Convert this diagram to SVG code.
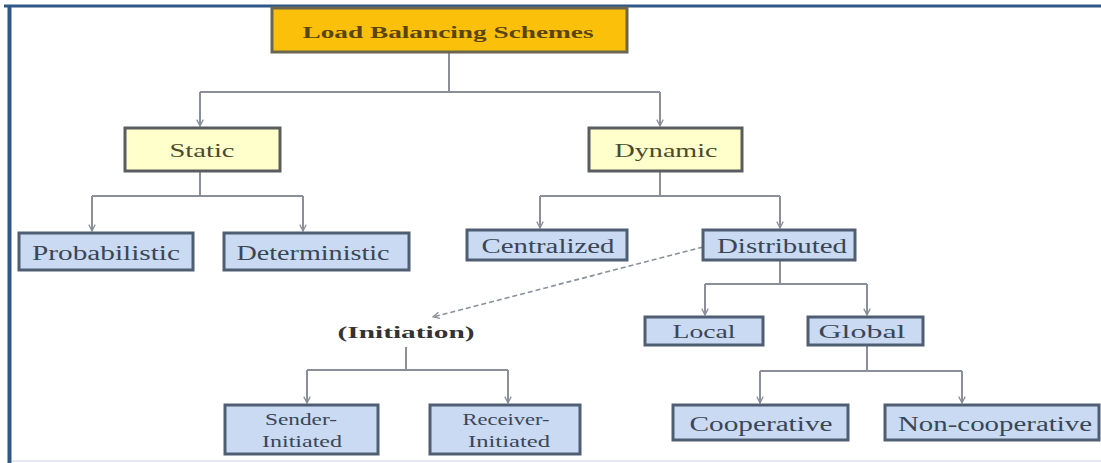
<svg xmlns="http://www.w3.org/2000/svg" width="1101" height="463" viewBox="0 0 1101 463">
<defs>
<marker id="arr" viewBox="0 0 10 10" refX="9" refY="5" markerWidth="8" markerHeight="8" orient="auto" markerUnits="userSpaceOnUse">
<path d="M1,1 L9,5 L1,9" fill="none" stroke="#8a8f99" stroke-width="1.6"/>
</marker>
<style>
.frame{stroke:#2f5887;fill:none}
.con{fill:none;stroke:#8a8f99;stroke-width:2}
.dash{fill:none;stroke:#8a8f99;stroke-width:1.6;stroke-dasharray:5 3}
.root{fill:#fbc10a;stroke:#6b6650;stroke-width:3}
.yel{fill:#ffffcc;stroke:#5a5d5f;stroke-width:3}
.blue{fill:#c9daf2;stroke:#4f5e72;stroke-width:3}
.t{font-family:"Liberation Serif",serif;text-anchor:middle}
.tr{font-size:17px;font-weight:bold;fill:#5a4410}
.ty{font-size:19px;fill:#4a4a2a}
.tb{font-size:20px;fill:#3a4656}
.ts{font-size:16px;fill:#3a4656}
.tm{font-size:18px;fill:#3a4656}
.ti{font-size:17px;font-weight:bold;fill:#333}
</style>
</defs>
<rect x="0" y="0" width="1101" height="463" fill="#ffffff"/>
<line class="frame" x1="4" y1="6" x2="1101" y2="6" stroke-width="3"/>
<line class="frame" x1="9.5" y1="5" x2="9.5" y2="463" stroke-width="4"/>
<line x1="12" y1="461" x2="1101" y2="461" stroke="#e4e8ee" stroke-width="2"/>

<g id="connectors">
<path class="con" d="M449,52 V92 M200,92 H660"/>
<path class="con" d="M200,92 V126" marker-end="url(#arr)"/>
<path class="con" d="M660,92 V126" marker-end="url(#arr)"/>
<path class="con" d="M200,171 V196 M92,196 H303"/>
<path class="con" d="M92,196 V231" marker-end="url(#arr)"/>
<path class="con" d="M303,196 V231" marker-end="url(#arr)"/>
<path class="con" d="M660,171 V196 M540,196 H780"/>
<path class="con" d="M540,196 V228" marker-end="url(#arr)"/>
<path class="con" d="M780,196 V228" marker-end="url(#arr)"/>
<path class="con" d="M780,260 V284 M705,284 H867"/>
<path class="con" d="M705,284 V315" marker-end="url(#arr)"/>
<path class="con" d="M867,284 V315" marker-end="url(#arr)"/>
<path class="con" d="M867,346 V371 M760,371 H962"/>
<path class="con" d="M760,371 V403" marker-end="url(#arr)"/>
<path class="con" d="M962,371 V403" marker-end="url(#arr)"/>
<path class="con" d="M406,347 V370 M307,370 H508"/>
<path class="con" d="M307,370 V403" marker-end="url(#arr)"/>
<path class="con" d="M508,370 V403" marker-end="url(#arr)"/>
<path class="dash" d="M703,247 L433,317" marker-end="url(#arr)"/>
</g>

<g id="root"><rect class="root" x="272" y="8" width="355" height="44"/><text class="t tr" x="448" y="38" textLength="291" lengthAdjust="spacingAndGlyphs">Load Balancing Schemes</text></g>
<g id="static"><rect class="yel" x="125" y="128" width="155" height="43"/><text class="t ty" x="202" y="157" textLength="65" lengthAdjust="spacingAndGlyphs">Static</text></g>
<g id="dynamic"><rect class="yel" x="589" y="128" width="153" height="43"/><text class="t ty" x="666" y="157" textLength="103" lengthAdjust="spacingAndGlyphs">Dynamic</text></g>
<g id="probabilistic"><rect class="blue" x="19" y="233" width="174" height="37"/><text class="t tb" x="106" y="260" textLength="148" lengthAdjust="spacingAndGlyphs">Probabilistic</text></g>
<g id="deterministic"><rect class="blue" x="224" y="233" width="185" height="37"/><text class="t tb" x="313" y="260" textLength="153" lengthAdjust="spacingAndGlyphs">Deterministic</text></g>
<g id="centralized"><rect class="blue" x="467" y="230" width="160" height="30"/><text class="t tb" x="548" y="253" textLength="133" lengthAdjust="spacingAndGlyphs">Centralized</text></g>
<g id="distributed"><rect class="blue" x="703" y="230" width="152" height="30"/><text class="t tb" x="782" y="253" textLength="130" lengthAdjust="spacingAndGlyphs">Distributed</text></g>
<g id="local"><rect class="blue" x="645" y="317" width="118" height="28"/><text class="t tm" x="704" y="338" textLength="63" lengthAdjust="spacingAndGlyphs">Local</text></g>
<g id="global"><rect class="blue" x="808" y="317" width="115" height="28"/><text class="t tm" x="862" y="338" textLength="87" lengthAdjust="spacingAndGlyphs">Global</text></g>
<g id="initiation"><text class="t ti" x="406" y="338" textLength="137" lengthAdjust="spacingAndGlyphs">(Initiation)</text></g>
<g id="sender"><rect class="blue" x="225" y="405" width="153" height="49"/><text class="t ts" x="301" y="425" textLength="72" lengthAdjust="spacingAndGlyphs">Sender-</text><text class="t ts" x="302" y="447" textLength="80" lengthAdjust="spacingAndGlyphs">Initiated</text></g>
<g id="receiver"><rect class="blue" x="430" y="405" width="150" height="49"/><text class="t ts" x="506" y="425" textLength="87" lengthAdjust="spacingAndGlyphs">Receiver-</text><text class="t ts" x="509" y="447" textLength="82" lengthAdjust="spacingAndGlyphs">Initiated</text></g>
<g id="cooperative"><rect class="blue" x="673" y="405" width="175" height="35"/><text class="t tb" x="761" y="431" textLength="143" lengthAdjust="spacingAndGlyphs">Cooperative</text></g>
<g id="noncooperative"><rect class="blue" x="885" y="405" width="214" height="35"/><text class="t tb" x="995" y="431" textLength="194" lengthAdjust="spacingAndGlyphs">Non-cooperative</text></g>
</svg>
